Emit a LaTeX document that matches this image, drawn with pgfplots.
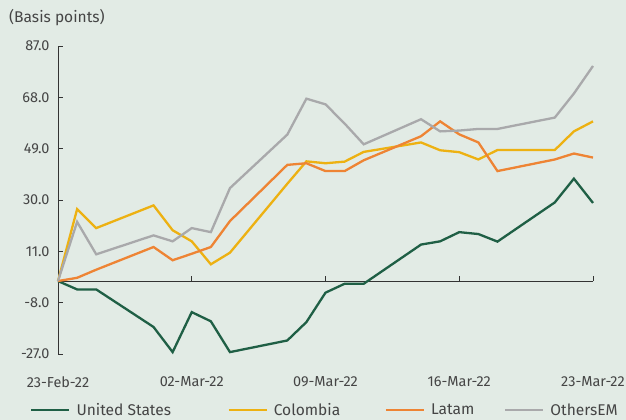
\documentclass[border=0pt]{standalone}
\usepackage{pgfplots}
\pgfplotsset{compat=1.18}
\usepackage{pgfplotstable}
\usepackage{fontspec}
\setmainfont{Fira Sans}
\definecolor{bg}{HTML}{E2EBE5}
\definecolor{us}{HTML}{1F5F45}
\definecolor{col}{HTML}{EDB112}
\definecolor{lat}{HTML}{EE8434}
\definecolor{oth}{HTML}{A9A9AB}
\definecolor{txt}{HTML}{454545}
\definecolor{axl}{HTML}{333333}
\pgfplotstableread{
d us col lat oth
0 0 0 0 0
1 -3.1 26.6 1.2 21.9
2 -3.1 19.6 4.2 9.9
5 -17.0 28.0 12.6 16.9
6 -26.3 18.8 7.7 14.7
7 -11.5 14.7 10.1 19.6
8 -14.9 6.2 12.6 18.1
9 -26.3 10.5 22.2 34.4
12 -22.0 36.0 43.0 54.2
13 -15.2 44.3 43.6 67.5
14 -4.3 43.6 40.7 65.4
15 -1.0 44.2 40.7 58.3
16 -1.0 47.8 44.7 50.6
19 13.5 51.3 53.6 59.9
20 14.7 48.4 59.1 55.4
21 18.1 47.7 54.3 55.7
22 17.4 45.0 51.3 56.3
23 14.6 48.5 40.7 56.3
26 29.1 48.5 45.0 60.5
27 37.9 55.4 47.2 69.4
28 28.9 59.1 45.7 79.6
}\data
\begin{document}
\begin{tikzpicture}
\fill[bg] (0,0) rectangle (626bp,420bp);
\useasboundingbox (0,0) rectangle (626bp,420bp);
\node[anchor=west,text=txt,font=\fontsize{15.6}{18}\selectfont,inner sep=0pt] at (9bp,402bp) {(Basis points)};
\begin{axis}[
  at={(58bp,66bp)}, anchor=south west,
  scale only axis, width=535bp, height=308bp,
  xmin=0, xmax=28, ymin=-27, ymax=87,
  axis y line*=left, axis x line*=bottom,
  x axis line style={draw=none},
  y axis line style={draw=axl, line width=0.9bp},
  ytick={-27,-8,11,30,49,68,87},
  yticklabels={-27.0,-8.0,11.0,30.0,49.0,68.0,87.0},
  xtick={0,7,14,21,28},
  xticklabels={23-Feb-22,02-Mar-22,09-Mar-22,16-Mar-22,23-Mar-22},
  major x tick style={draw=none},
  major y tick style={draw=axl, line width=0.9bp},
  tick align=inside, major tick length=5bp,
  ticklabel style={font=\fontsize{14.5}{17}\selectfont, text=txt},
  xticklabel style={yshift=-19bp},
  yticklabel style={xshift=-5bp},
  /pgf/number format/assume math mode=true,
  clip=false,
  legend columns=4,
  legend style={at={(axis description cs:-0.0523,-0.182)}, anchor=west, draw=none, fill=none,
    font=\fontsize{15.6}{18}\selectfont, text=txt, inner sep=0pt,
    nodes={inner sep=0pt},
    /tikz/every odd column/.append style={column sep=6bp}},
  legend image code/.code={\draw[#1] (0bp,0bp) -- (38bp,0bp);},
  every axis plot/.append style={line width=2.3bp},
]
\draw[axl, line width=0.9bp] (axis cs:0,0) -- (axis cs:28,0);
\draw[axl, line width=0.9bp] (axis cs:7,0) -- ([yshift=5bp]axis cs:7,0);
\draw[axl, line width=0.9bp] (axis cs:14,0) -- ([yshift=5bp]axis cs:14,0);
\draw[axl, line width=0.9bp] (axis cs:21,0) -- ([yshift=5bp]axis cs:21,0);
\draw[axl, line width=0.9bp] (axis cs:28,0) -- ([yshift=5bp]axis cs:28,0);
\addplot[us] table[x=d,y=us] {\data};
\addlegendentry{\makebox[151bp][l]{United States}}
\addplot[col] table[x=d,y=col] {\data};
\addlegendentry{\makebox[111bp][l]{Colombia}}
\addplot[lat] table[x=d,y=lat] {\data};
\addlegendentry{\makebox[73bp][l]{Latam}}
\addplot[oth] table[x=d,y=oth] {\data};
\addlegendentry{OthersEM}
\end{axis}
\end{tikzpicture}
\end{document}
